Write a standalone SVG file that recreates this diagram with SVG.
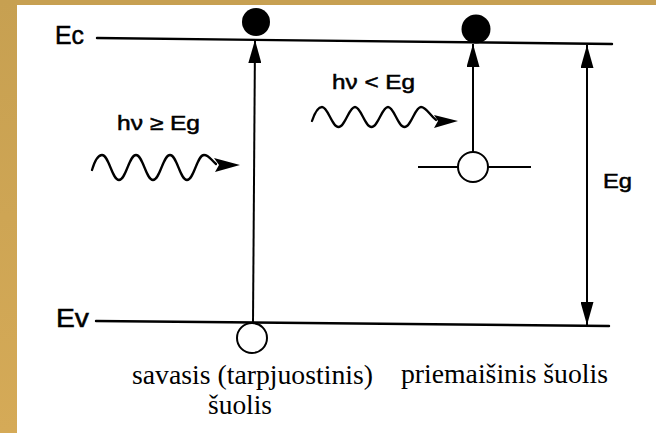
<svg xmlns="http://www.w3.org/2000/svg" width="656" height="433" viewBox="0 0 656 433">
<defs>
<linearGradient id="band" x1="0" y1="0" x2="0" y2="1">
<stop offset="0" stop-color="#C7A051"/>
<stop offset="1" stop-color="#D5AA57"/>
</linearGradient>
<marker id="ah" viewBox="0 0 23 13" refX="23" refY="6.5" markerWidth="23" markerHeight="13" markerUnits="userSpaceOnUse" orient="auto-start-reverse">
<path d="M0,0 L23,6.5 L0,13 Z" fill="#000"/>
</marker>
</defs>
<style>
.ln{stroke:#000;stroke-width:2.4;fill:none;stroke-linecap:round}
.ar{stroke:#000;stroke-width:2;fill:none}
.wv{stroke:#000;stroke-width:2.3;fill:none;stroke-linecap:round}
.lab{font-family:"Liberation Sans",Arial,sans-serif;fill:#000;stroke:#000;stroke-width:0.5}
.cap{font-family:"Liberation Serif","Times New Roman",serif;font-size:27px;fill:#000}
</style>
<rect x="0" y="0" width="656" height="433" fill="#fff"/>
<rect x="0" y="0" width="656" height="5" fill="#C7A052"/>
<rect x="0" y="0" width="17" height="433" fill="url(#band)"/>

<g id="Ec">
<line class="ln" x1="97" y1="38" x2="612" y2="44"/>
<text class="lab" x="55" y="44" font-size="25" textLength="29" lengthAdjust="spacingAndGlyphs">Ec</text>
</g>
<g id="Ev">
<line class="ln" x1="96" y1="321" x2="609" y2="326"/>
<text class="lab" x="56" y="327" font-size="25" textLength="33" lengthAdjust="spacingAndGlyphs">Ev</text>
</g>
<g id="impurity">
<line class="ar" x1="418" y1="167" x2="531" y2="167"/>
</g>

<g id="connectors">
<line class="ar" x1="253" y1="323" x2="255" y2="40" marker-end="url(#ah)"/>
<line class="ar" x1="473" y1="152" x2="473" y2="44" marker-end="url(#ah)"/>
<line class="ar" x1="587" y1="45" x2="587" y2="325" marker-start="url(#ah)" marker-end="url(#ah)"/>
<path class="wv" d="M92,170 C95,160 98,155 102,155 C109,155 112,180 119,180 C126,180 129,155 136,155 C143,155 146,180 153,180 C160,180 163,155 170,155 C177,155 180,180 187,180 C194,180 197,155 204,155 C209,155 211,160 216,164"/>
<polygon points="240,165 214,158 219,165 215,172" fill="#000"/>
<path class="wv" d="M312,121 C315,112 318,107 322,107 C328,107 332,127 338.5,127 C345,127 349,107 355,107 C361,107 365,127 371.5,127 C378,127 382,107 388,107 C394,107 398,127 404.5,127 C411,127 415,107 421,107 C426,107 429,114 436,120"/>
<polygon points="458,121 434,115 438,121 434,128" fill="#000"/>
</g>

<g id="electron1"><circle cx="256" cy="22" r="14" fill="#000"/></g>
<g id="electron2"><circle cx="476" cy="29" r="14.5" fill="#000"/></g>
<g id="hole1"><circle cx="252" cy="338" r="15" fill="#fff" stroke="#000" stroke-width="2"/></g>
<g id="hole2"><circle cx="473" cy="167" r="15" fill="#fff" stroke="#000" stroke-width="2"/></g>

<g id="labels">
<text class="lab" x="117" y="130" font-size="20" textLength="83" lengthAdjust="spacingAndGlyphs">hν ≥ Eg</text>
<text class="lab" x="332" y="89" font-size="20" textLength="83" lengthAdjust="spacingAndGlyphs">hν &lt; Eg</text>
<text class="lab" x="603" y="188" font-size="20" textLength="29" lengthAdjust="spacingAndGlyphs">Eg</text>
<text class="cap" x="132" y="384" textLength="241" lengthAdjust="spacingAndGlyphs">savasis (tarpjuostinis)</text>
<text class="cap" x="208" y="414" textLength="64" lengthAdjust="spacingAndGlyphs">šuolis</text>
<text class="cap" x="401" y="383" textLength="207" lengthAdjust="spacingAndGlyphs">priemaišinis šuolis</text>
</g>
</svg>
